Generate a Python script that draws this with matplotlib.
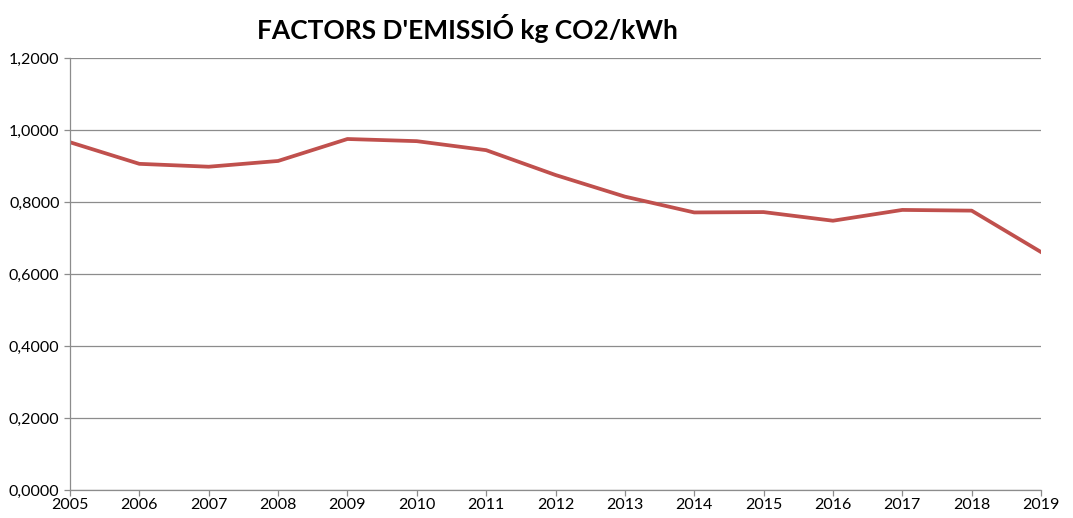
import matplotlib
matplotlib.use('Agg')
import matplotlib.pyplot as plt

# emission factors, kg CO2 per kWh
years = [2005, 2006, 2007, 2008, 2009, 2010, 2011, 2012, 2013, 2014, 2015, 2016, 2017, 2018, 2019]
factors = [0.966, 0.906, 0.898, 0.914, 0.975, 0.969, 0.944, 0.875, 0.815, 0.771, 0.772, 0.748, 0.778, 0.776, 0.661]
y_ticks = [0.0, 0.2, 0.4, 0.6, 0.8, 1.0, 1.2]

plt.rcParams['font.family'] = ['Lato', 'DejaVu Sans']

fig = plt.figure(figsize=(10.73, 5.18), dpi=100)
ax = fig.add_axes([70 / 1073, 28 / 518, (1041 - 70) / 1073, (490 - 58) / 518])

ax.plot(years, factors, color='#C0504D', linewidth=2.7, solid_joinstyle='round')

ax.set_xlim(years[0], years[-1])
ax.set_ylim(0, 1.2)
ax.set_xticks(years)
ax.set_yticks(y_ticks)
ax.set_yticklabels([f"{v:.4f}".replace('.', ',') for v in y_ticks])

ax.grid(axis='y', color='#8c8c8c', linewidth=0.9)
ax.set_axisbelow(True)
for side in ['top', 'right']:
    ax.spines[side].set_visible(False)
for side in ['left', 'bottom']:
    ax.spines[side].set_color('#8c8c8c')
    ax.spines[side].set_linewidth(0.9)
ax.tick_params(axis='both', colors='#8c8c8c', labelcolor='black', labelsize=11.5, length=4, width=0.9)
ax.tick_params(axis='x', pad=2)

fig.text(0.436, 0.945, "FACTORS D'EMISSIÓ kg CO2/kWh", ha='center', va='center',
         fontsize=19, fontweight='bold')

fig.savefig('out.png', dpi=100)
